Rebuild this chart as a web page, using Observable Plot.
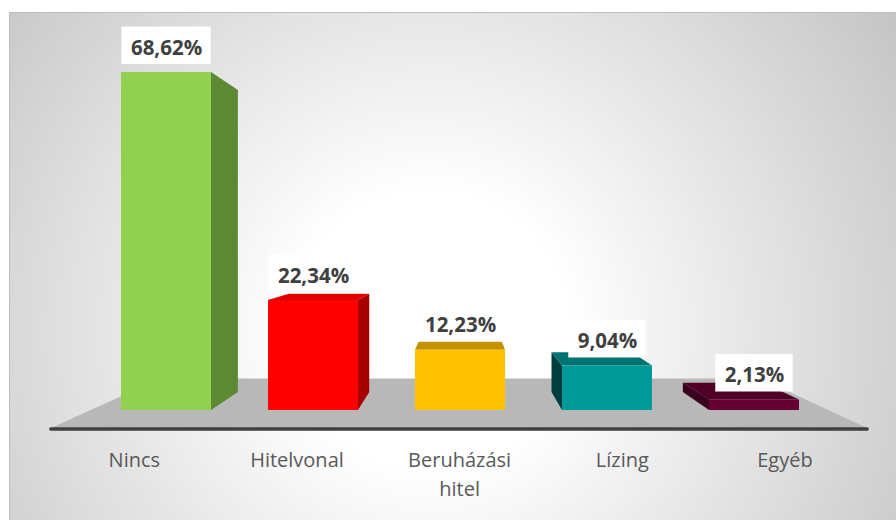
<!DOCTYPE html>
<html>
<head>
<meta charset="utf-8">
<script src="https://cdn.jsdelivr.net/npm/d3@7"></script>
<script src="https://cdn.jsdelivr.net/npm/@observablehq/plot@0.6"></script>
<style>
  html, body { margin: 0; padding: 0; background: #ffffff; }
  #chart svg { display: block; }
</style>
</head>
<body>
<div id="chart"></div>
<script>
// ---- data ----
const categories = ["Nincs", "Hitelvonal", "Beruházási hitel", "Lízing", "Egyéb"];
const categoryLines = [["Nincs"], ["Hitelvonal"], ["Beruházási", "hitel"], ["Lízing"], ["Egyéb"]];
const values = [68.62, 22.34, 12.23, 9.04, 2.13];
const valueLabels = ["68,62%", "22,34%", "12,23%", "9,04%", "2,13%"];

// ---- palettes ----
const frontColors = ["#92d050", "#ff0000", "#ffc000", "#009999", "#660033"];
const sideColors  = ["#5e8933", "#a60000", "#b38600", "#003d3d", "#3b001e"];
const topColors   = ["#7fb944", "#e00000", "#c39200", "#007272", "#4f0027"];

const data = categories.map((c, i) => ({
  category: c, lines: categoryLines[i], value: values[i], label: valueLabels[i],
  side: sideColors[i], top: topColors[i]
}));

// ---- 3D view settings ----
const DEPTH = 0.1065;       // bar depth as a fraction toward the vanishing point
const FLOOR_FRONT = -0.1065;
const FLOOR_BACK = 0.187;
const EYE_VALUE = 34.3;     // eye level in data units
const EYE_SHIFT = 4;        // horizontal shift of the vanishing point (px)

function view(scales, dims) {
  const x0 = dims.marginLeft, x1 = dims.width - dims.marginRight;
  const VX = (x0 + x1) / 2 + EYE_SHIFT;
  const VY = scales.y(EYE_VALUE);
  const proj = (px, py, t) => [px + t * (VX - px), py + t * (VY - py)];
  const bw = typeof scales.x.bandwidth === "function" ? scales.x.bandwidth()
           : (scales.scales && scales.scales.x && scales.scales.x.bandwidth);
  return {x0, x1, VX, VY, proj, bw};
}

const pts = (a) => a.map(p => p.join(",")).join(" ");

function backgroundMark(index, scales, values, dims) {
  const g = d3.create("svg:g");
  const grad = g.append("defs").append("radialGradient")
    .attr("id", "bgGrad").attr("gradientUnits", "userSpaceOnUse")
    .attr("cx", 430).attr("cy", 330).attr("r", 620);
  grad.append("stop").attr("offset", 0).attr("stop-color", "#ffffff");
  grad.append("stop").attr("offset", 0.22).attr("stop-color", "#ffffff");
  grad.append("stop").attr("offset", 1).attr("stop-color", "#bdbdbd");
  g.append("rect")
    .attr("x", 9.5).attr("y", 12.5)
    .attr("width", dims.width).attr("height", dims.height)
    .attr("fill", "url(#bgGrad)").attr("stroke", "#bfbfbf");
  return g.node();
}

function floorMark(index, scales, values, dims) {
  const v = view(scales, dims);
  const y0 = scales.y(0);
  const g = d3.create("svg:g");
  const fl = v.proj(v.x0, y0, FLOOR_FRONT), fr = v.proj(v.x1, y0, FLOOR_FRONT);
  const bl = v.proj(v.x0, y0, FLOOR_BACK), br = v.proj(v.x1, y0, FLOOR_BACK);
  g.append("polygon").attr("points", pts([fl, fr, br, bl])).attr("fill", "#b8b8b8");
  g.append("line")
    .attr("x1", fl[0]).attr("y1", fl[1] + 1).attr("x2", fr[0]).attr("y2", fr[1] + 1)
    .attr("stroke", "#3f3f3f").attr("stroke-width", 3.5).attr("stroke-linecap", "round");
  return g.node();
}

function facesMark(index, scales, values, dims) {
  const v = view(scales, dims);
  const g = d3.create("svg:g");
  const yb = scales.y(0);
  for (const d of data) {
    const xl = scales.x(d.category), xr = xl + v.bw, yt = scales.y(d.value);
    if (v.VX > xr) {
      g.append("polygon").attr("fill", d.side)
        .attr("points", pts([[xr, yt], v.proj(xr, yt, DEPTH), v.proj(xr, yb, DEPTH), [xr, yb]]));
    }
    if (v.VX < xl) {
      g.append("polygon").attr("fill", d.side)
        .attr("points", pts([[xl, yt], v.proj(xl, yt, DEPTH), v.proj(xl, yb, DEPTH), [xl, yb]]));
    }
    if (v.VY < yt) {
      g.append("polygon").attr("fill", d.top)
        .attr("points", pts([[xl, yt], [xr, yt], v.proj(xr, yt, DEPTH), v.proj(xl, yt, DEPTH)]));
    }
  }
  return g.node();
}

const LABEL_FONT = "bold 20.5px 'Open Sans'";
const measureCtx = document.createElement("canvas").getContext("2d");

function labelBoxMark(index, scales, values, dims) {
  const v = view(scales, dims);
  measureCtx.font = LABEL_FONT;
  const g = d3.create("svg:g");
  for (const d of data) {
    const cx = scales.x(d.category) + v.bw / 2, yt = scales.y(d.value);
    const w = measureCtx.measureText(d.label).width + 18;
    g.append("rect")
      .attr("x", cx - w / 2).attr("y", yt - 45.5)
      .attr("width", w).attr("height", 37.5)
      .attr("fill", "#ffffff");
  }
  return g.node();
}

function categoryLabelMark(index, scales, values, dims) {
  const v = view(scales, dims);
  const y0 = scales.y(0);
  const g = d3.create("svg:g")
    .attr("font-family", "'Open Sans', sans-serif")
    .attr("font-size", 20).attr("fill", "#595959").attr("text-anchor", "middle");
  for (const d of data) {
    const cx = scales.x(d.category) + v.bw / 2;
    const [px] = v.proj(cx, y0, FLOOR_FRONT);
    const t = g.append("text").attr("x", px).attr("y", 467);
    d.lines.forEach((line, j) => {
      t.append("tspan").attr("x", px).attr("dy", j === 0 ? 0 : 28.5).text(line);
    });
  }
  return g.node();
}

const chart = Plot.plot({
  width: 896,
  height: 520,
  marginLeft: 90.55,
  marginRight: 67.73,
  marginTop: 16,
  marginBottom: 110,
  style: {background: "transparent", fontFamily: "'Open Sans', sans-serif"},
  x: {domain: categories, paddingInner: 0.39, paddingOuter: 0.2, axis: null},
  y: {domain: [0, 80], axis: null},
  color: {domain: categories, range: frontColors},
  marks: [
    backgroundMark,
    floorMark,
    facesMark,
    Plot.barY(data, {x: "category", y: "value", fill: "category"}),
    labelBoxMark,
    Plot.text(data, {
      x: "category", y: "value", text: "label", dy: -24.5,
      fontFamily: "'Open Sans', sans-serif", fontWeight: "bold", fontSize: 20.5,
      fill: "#404040"
    }),
    categoryLabelMark
  ]
});

document.getElementById("chart").appendChild(chart);
</script>
</body>
</html>
